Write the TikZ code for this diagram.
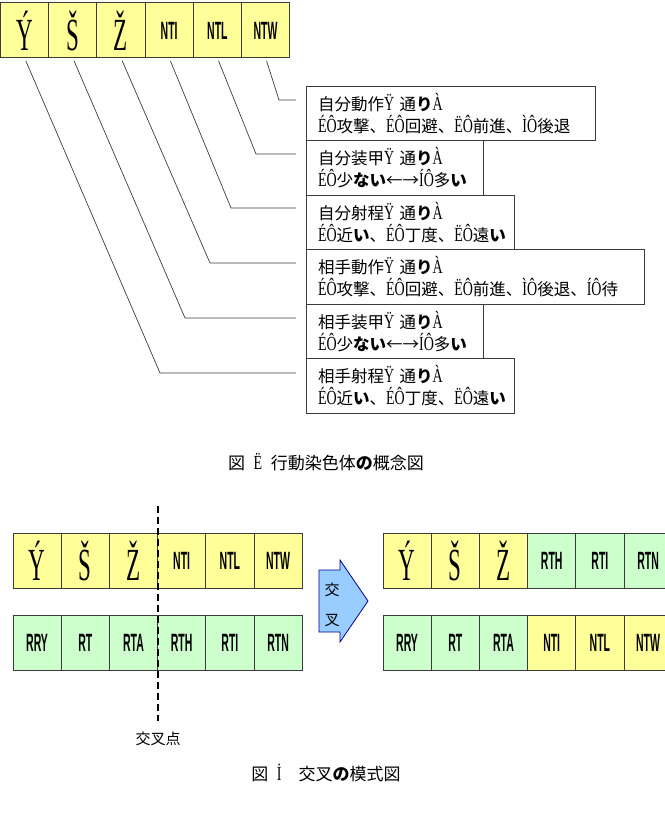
\documentclass[tikz,border=0pt]{standalone}
\usepackage{fontspec}
\setmainfont{Noto Sans CJK JP}
\newfontfamily\glfont{Liberation Serif}
\newfontfamily\cdfont{Liberation Sans}
\usepackage{tikz}
\usetikzlibrary{positioning,calc}
\definecolor{cyel}{RGB}{255,255,153}
\definecolor{cgrn}{RGB}{204,255,204}
\definecolor{carrow}{RGB}{153,204,255}
\definecolor{cline}{RGB}{60,60,60}
\newcommand{\gsym}[1]{\scalebox{0.5}[1]{\fontsize{46}{46}\selectfont\glfont #1}}
\newcommand{\gcode}[1]{\scalebox{0.42}[1]{\fontsize{25}{25}\selectfont\cdfont\bfseries #1}}
\newcommand{\mj}[1]{\scalebox{0.7}[1]{\fontsize{20}{22}\selectfont\glfont #1}}

\begin{document}
\begin{tikzpicture}[x=1pt, y=-1pt,
  font=\fontsize{16.5}{22}\selectfont,
  cell/.style={draw=cline, line width=1pt, minimum width=48.2pt, minimum height=55pt, inner sep=0pt, outer sep=0pt},
  yel/.style={cell, fill=cyel},
  grn/.style={cell, fill=cgrn},
  info/.style={draw=cline, line width=0.8pt, anchor=north west, inner xsep=12pt, inner ysep=0pt, minimum height=54.5pt, align=left, outer sep=0pt},
  link/.style={cline, line width=0.7pt},
  cut/.style={dash pattern=on 7pt off 4pt, line width=1.5pt},
  captext/.style={font=\fontsize{17}{20}\selectfont},
]
\useasboundingbox (0,0) rectangle (664,818);

% --- chromosome (top) ---
\node[yel, anchor=north west] (a1) at (0.5,3) {\gsym{Ý}};
\node[yel, right=0pt of a1] (a2) {\gsym{Š}};
\node[yel, right=0pt of a2] (a3) {\gsym{Ž}};
\node[yel, right=0pt of a3] (a4) {\gcode{NTI}};
\node[yel, right=0pt of a4] (a5) {\gcode{NTL}};
\node[yel, right=0pt of a5] (a6) {\gcode{NTW}};

% --- gene meaning boxes ---
\node[info, text width=265pt] (b1) at (306,86)
  {自分動作\mj{Ÿ} 通{\bfseries り}\mj{À}\\\mj{ÉÔ}攻撃、\mj{ÉÔ}回避、\mj{ËÔ}前進、\mj{ÌÔ}後退};
\node[info, text width=153pt, below=0pt of b1.south west, anchor=north west] (b2)
  {自分装甲\mj{Ÿ} 通{\bfseries り}\mj{À}\\\mj{ÉÔ}少{\bfseries ない}←→\mj{ÍÔ}多{\bfseries い}};
\node[info, text width=184pt, below=0pt of b2.south west, anchor=north west] (b3)
  {自分射程\mj{Ÿ} 通{\bfseries り}\mj{À}\\\mj{ÉÔ}近{\bfseries い}、\mj{ÉÔ}丁度、\mj{ËÔ}遠{\bfseries い}};
\node[info, text width=314pt, below=0pt of b3.south west, anchor=north west] (b4)
  {相手動作\mj{Ÿ} 通{\bfseries り}\mj{À}\\\mj{ÉÔ}攻撃、\mj{ÉÔ}回避、\mj{ËÔ}前進、\mj{ÌÔ}後退、\mj{ÍÔ}待};
\node[info, text width=153pt, below=0pt of b4.south west, anchor=north west] (b5)
  {相手装甲\mj{Ÿ} 通{\bfseries り}\mj{À}\\\mj{ÉÔ}少{\bfseries ない}←→\mj{ÍÔ}多{\bfseries い}};
\node[info, text width=184pt, below=0pt of b5.south west, anchor=north west] (b6)
  {相手射程\mj{Ÿ} 通{\bfseries り}\mj{À}\\\mj{ÉÔ}近{\bfseries い}、\mj{ÉÔ}丁度、\mj{ËÔ}遠{\bfseries い}};

% --- leader lines ---
\coordinate (e6) at (279,100);
\coordinate (e5) at (256,154);
\coordinate (e4) at (231,208);
\coordinate (e3) at (210,263);
\coordinate (e2) at (185,318);
\coordinate (e1) at (160,373);
\draw[link, shorten <=3pt, shorten >=10pt] (a6.south) -- (e6) -- (e6 -| b1.west);
\draw[link, shorten <=3pt, shorten >=10pt] (a5.south) -- (e5) -- (e5 -| b2.west);
\draw[link, shorten <=3pt, shorten >=10pt] (a4.south) -- (e4) -- (e4 -| b3.west);
\draw[link, shorten <=3pt, shorten >=10pt] (a3.south) -- (e3) -- (e3 -| b4.west);
\draw[link, shorten <=3pt, shorten >=10pt] (a2.south) -- (e2) -- (e2 -| b5.west);
\draw[link, shorten <=3pt, shorten >=10pt] (a1.south) -- (e1) -- (e1 -| b6.west);

\node[captext] (cap1) at (326,462) {図\enspace\mj{Ë}\enspace 行動染色体{\bfseries の}概念図};

% --- parents (before crossover) ---
\node[yel, anchor=north west] (p1) at (13,533) {\gsym{Ý}};
\node[yel, right=0pt of p1] (p2) {\gsym{Š}};
\node[yel, right=0pt of p2] (p3) {\gsym{Ž}};
\node[yel, right=0pt of p3] (p4) {\gcode{NTI}};
\node[yel, right=0pt of p4] (p5) {\gcode{NTL}};
\node[yel, right=0pt of p5] (p6) {\gcode{NTW}};
\node[grn, anchor=north west] (q1) at (13,615) {\gcode{RRY}};
\node[grn, right=0pt of q1] (q2) {\gcode{RT}};
\node[grn, right=0pt of q2] (q3) {\gcode{RTA}};
\node[grn, right=0pt of q3] (q4) {\gcode{RTH}};
\node[grn, right=0pt of q4] (q5) {\gcode{RTI}};
\node[grn, right=0pt of q5] (q6) {\gcode{RTN}};

% --- crossover point ---
\node[font=\fontsize{15}{18}\selectfont] (cpt) at (158,739) {交叉点};
\coordinate (cuttop) at (158,506);
\draw[cut, shorten >=8pt] (cuttop) -- (cpt.north);

% --- block arrow ---
\draw[draw=blue!60!black, fill=carrow, line width=0.8pt]
  (319,570) -- (340,570) -- (340,560) -- (368,601) -- (340,642) -- (340,632) -- (319,632) -- cycle;
\node[align=center, font=\fontsize{15}{30}\selectfont] (xarr) at (332,605) {交\\叉};

% --- children (after crossover) ---
\node[yel, anchor=north west] (r1) at (383,533) {\gsym{Ý}};
\node[yel, right=0pt of r1] (r2) {\gsym{Š}};
\node[yel, right=0pt of r2] (r3) {\gsym{Ž}};
\node[grn, right=0pt of r3] (r4) {\gcode{RTH}};
\node[grn, right=0pt of r4] (r5) {\gcode{RTI}};
\node[grn, right=0pt of r5] (r6) {\gcode{RTN}};
\node[grn, anchor=north west] (s1) at (383,615) {\gcode{RRY}};
\node[grn, right=0pt of s1] (s2) {\gcode{RT}};
\node[grn, right=0pt of s2] (s3) {\gcode{RTA}};
\node[yel, right=0pt of s3] (s4) {\gcode{NTI}};
\node[yel, right=0pt of s4] (s5) {\gcode{NTL}};
\node[yel, right=0pt of s5] (s6) {\gcode{NTW}};

\node[captext] (cap2) at (326,773) {図\enspace\mj{İ}\quad 交叉{\bfseries の}模式図};
\end{tikzpicture}
\end{document}
